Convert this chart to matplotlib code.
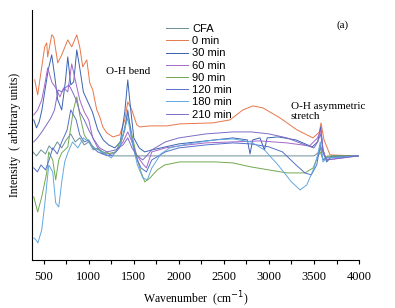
import matplotlib
matplotlib.use("Agg")
import matplotlib.pyplot as plt
from matplotlib.ticker import MultipleLocator

# FTIR spectra (intensity in arbitrary units)
labels = ['CFA', '0 min', '30 min', '60 min', '90 min', '120 min', '180 min', '210 min']
colors = ['#6b8f96', '#e8764a', '#3b63b3', '#a466c8', '#72a852', '#5570cc', '#62a8de', '#7d6cc6']

wn_cfa = [380, 420, 470, 520, 560, 600, 650, 700, 750, 800, 850, 900, 950, 1000, 1050, 1100,
          1150, 1200, 1260, 1300, 2000, 3000, 3500, 3560, 3580, 3620, 3990]
i_cfa = [108, 104, 110, 106, 114, 110, 118, 112, 120, 126, 118, 122, 115, 118, 110, 112,
         106, 108, 104, 104, 104, 104, 104, 108, 112, 103, 104]

wn_0 = [400, 433, 511, 533, 544, 589, 611, 656, 700, 767, 811, 867, 900, 933, 978, 1011, 1044,
        1089, 1122, 1156, 1200, 1267, 1344, 1400, 1433, 1478, 1533, 1567, 1678, 1867, 2011, 2378,
        2567, 2711, 2822, 2933, 3122, 3311, 3489, 3560, 3578, 3611, 3678, 3990]
i_0 = [180, 165, 213, 217, 203, 225, 223, 197, 205, 220, 213, 225, 213, 193, 200, 177, 170,
       150, 143, 133, 127, 123, 125, 140, 158, 150, 135, 133, 134, 134, 136, 137,
       140, 150, 154, 152, 142, 130, 122, 128, 137, 120, 105, 104]

wn_30 = [390, 420, 450, 480, 511, 550, 589, 620, 656, 700, 740, 767, 800, 833, 867, 900, 940,
         980, 1040, 1100, 1160, 1220, 1290, 1350, 1400, 1433, 1460, 1500, 1560, 1620, 1700, 1850,
         2000, 2200, 2400, 2600, 2760, 2790, 2820, 2900, 2950, 2980, 3100, 3300, 3480, 3540, 3575,
         3600, 3640, 3700, 3990]
i_30 = [140, 132, 138, 150, 168, 190, 205, 185, 160, 150, 178, 203, 175, 178, 210, 192, 168,
        160, 148, 130, 120, 115, 112, 118, 148, 180, 155, 122, 112, 108, 110, 113,
        116, 118, 120, 122, 120, 106, 120, 122, 110, 122, 123, 120, 113, 118, 133,
        110, 98, 104, 104]

wn_60 = [390, 433, 478, 511, 544, 589, 633, 680, 720, 767, 811, 850, 900, 950, 1000, 1044, 1100,
         1200, 1300, 1380, 1433, 1480, 1530, 1600, 1640, 1700, 1850, 2000, 2300, 2600, 2900, 3200,
         3450, 3540, 3575, 3600, 3640, 3990]
i_60 = [145, 150, 160, 175, 192, 178, 172, 163, 172, 168, 196, 180, 160, 148, 140, 122, 112,
        104, 108, 118, 128, 118, 105, 96, 92, 108, 112, 114, 117, 118, 119, 117,
        114, 122, 130, 110, 100, 104]

wn_90 = [390, 433, 478, 533, 556, 600, 633, 667, 700, 767, 830, 867, 900, 950, 1000, 1060, 1122,
         1200, 1300, 1380, 1433, 1480, 1540, 1580, 1622, 1680, 1760, 1844, 2011, 2400, 2600, 2800,
         3000, 3200, 3400, 3490, 3540, 3570, 3600, 3650, 3990]
i_90 = [63, 48, 63, 87, 108, 100, 80, 100, 107, 113, 150, 163, 145, 125, 118, 112, 110,
        106, 108, 125, 147, 125, 100, 88, 78, 82, 90, 95, 98, 98, 97, 93,
        90, 87, 87, 92, 103, 108, 100, 104, 104]

wn_120 = [390, 430, 470, 520, 560, 600, 650, 700, 760, 800, 860, 900, 950, 1000, 1050, 1100,
          1180, 1260, 1340, 1400, 1433, 1470, 1520, 1580, 1640, 1700, 1850, 2000, 2300, 2600,
          2800, 3000, 3150, 3300, 3400, 3470, 3530, 3570, 3600, 3640, 3990]
i_120 = [92, 88, 95, 90, 100, 112, 106, 118, 130, 150, 140, 125, 118, 120, 112, 108,
         105, 104, 112, 130, 150, 125, 104, 92, 88, 100, 108, 112, 115, 117,
         116, 113, 108, 95, 87, 85, 95, 115, 100, 102, 104]

wn_180 = [390, 415, 435, 478, 511, 556, 600, 633, 667, 700, 733, 767, 820, 880, 940, 1000, 1060,
          1150, 1250, 1350, 1433, 1480, 1540, 1600, 1650, 1700, 1800, 1900, 2100, 2400, 2600,
          2800, 2950, 3100, 3250, 3345, 3420, 3500, 3540, 3570, 3600, 3640, 3990]
i_180 = [22, 20, 17, 30, 55, 95, 88, 57, 53, 78, 98, 107, 118, 112, 122, 118, 112,
         108, 102, 115, 142, 118, 95, 82, 80, 92, 106, 112, 116, 120, 121,
         118, 110, 95, 78, 70, 75, 92, 105, 118, 98, 102, 104]

wn_210 = [390, 430, 480, 530, 580, 620, 660, 700, 740, 780, 820, 860, 900, 950, 1000, 1060,
          1120, 1200, 1300, 1380, 1433, 1480, 1540, 1600, 1700, 1850, 2000, 2300, 2600, 2800,
          3000, 3200, 3400, 3500, 3540, 3575, 3600, 3640, 3990]
i_210 = [118, 122, 128, 135, 142, 150, 170, 168, 172, 175, 168, 160, 148, 140, 130, 120,
         112, 108, 110, 115, 122, 112, 104, 100, 110, 118, 122, 126, 128, 128,
         126, 122, 115, 112, 118, 126, 108, 100, 104]

series = [(wn_cfa, i_cfa), (wn_0, i_0), (wn_30, i_30), (wn_60, i_60),
          (wn_90, i_90), (wn_120, i_120), (wn_180, i_180), (wn_210, i_210)]

serif = 'Liberation Serif'

fig = plt.figure(figsize=(3.95, 3.08), dpi=100)
ax = fig.add_axes([0.081, 0.156, 0.828, 0.812])

for (x, y), lab, c in zip(series, labels, colors):
    ax.plot(x, y, color=c, lw=0.7, label=lab)

ax.set_xlim(370, 4000)
ax.set_ylim(0, 250)
ax.spines['top'].set_visible(False)
ax.spines['right'].set_visible(False)
ax.set_yticks([])
ax.xaxis.set_major_locator(MultipleLocator(500))
ax.xaxis.set_minor_locator(MultipleLocator(250))
ax.tick_params(axis='x', which='both', direction='out', length=3, width=0.8, pad=5)
for t in ax.get_xticklabels():
    t.set_fontfamily(serif)
    t.set_fontsize(9)

ax.set_xlabel('Wavenumber  (cm$^{-1}$)', fontfamily=serif, fontsize=8.5, labelpad=5)
ax.set_ylabel('Intensity  ( arbitrary units)', fontfamily=serif, fontsize=8.5, labelpad=8)

ax.text(1433, 184, 'O-H bend', fontfamily=serif, fontsize=8, ha='center', va='bottom')
ax.text(3240, 139, 'O-H asymmetric\nstretch', fontfamily=serif, fontsize=8,
        ha='left', va='bottom', linespacing=1.15)
ax.text(3822, 235, '(a)', fontfamily=serif, fontsize=8, ha='center', va='center')

ax.legend(loc='upper left', bbox_to_anchor=(0.405, 0.94), bbox_transform=fig.transFigure,
          frameon=False, handlelength=2.0, handletextpad=0.4,
          labelspacing=0.2, borderpad=0, prop={'family': 'Liberation Sans', 'size': 8})

fig.savefig('out.png', dpi=100)
